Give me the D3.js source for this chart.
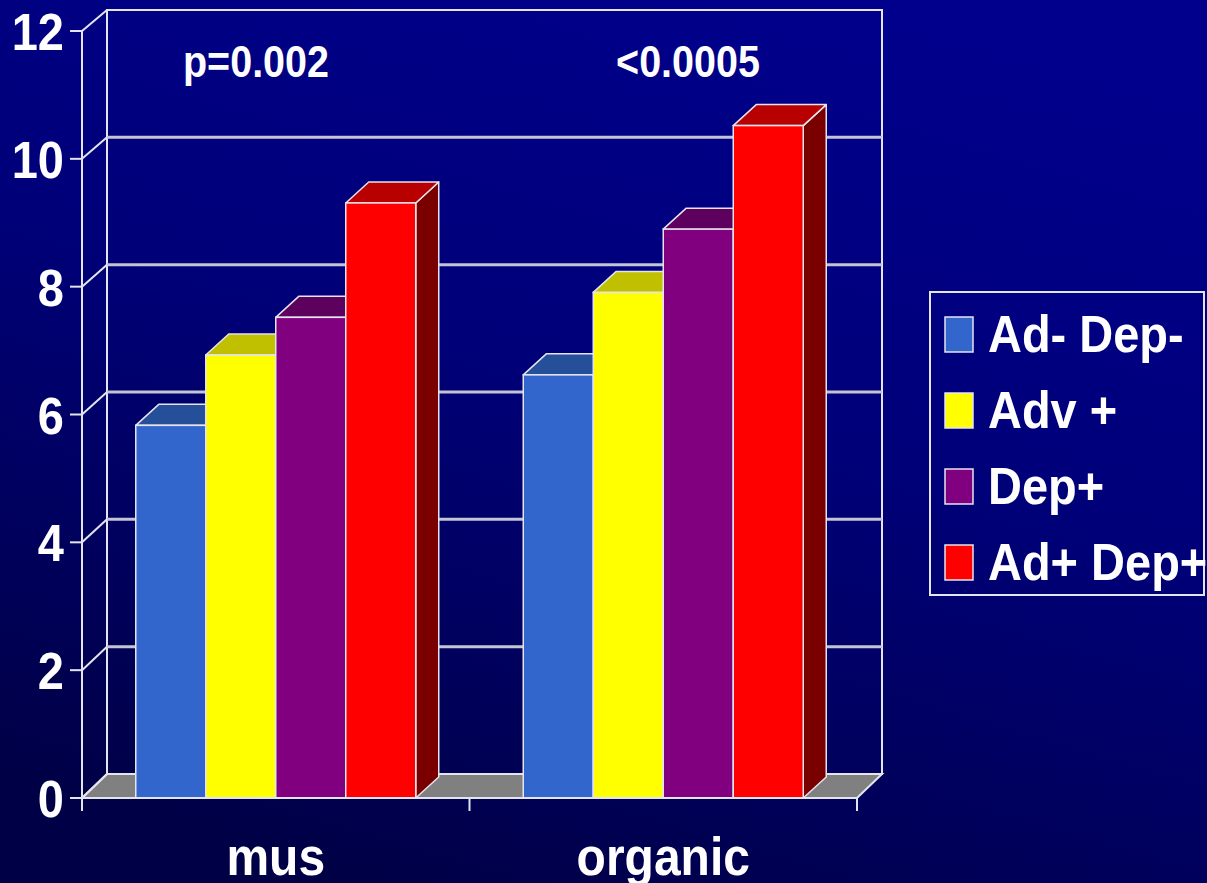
<!DOCTYPE html>
<html>
<head>
<meta charset="utf-8">
<script src="https://cdn.jsdelivr.net/npm/d3@7"></script>
<style>
  html, body { margin: 0; padding: 0; background: #000060; }
  svg { display: block; }
  text { font-family: "Liberation Sans", Arial, sans-serif; font-weight: bold; fill: #ffffff; }
</style>
</head>
<body>
<svg id="chart" width="1207" height="883"></svg>
<script>
// Data
const categories = ["mus", "organic"];
const seriesNames = ["Ad- Dep-", "Adv +", "Dep+", "Ad+ Dep+"];
const musValues = [5.83, 6.93, 7.52, 9.31];
const organicValues = [6.62, 7.91, 8.90, 10.52];
const pLabels = ["p=0.002", "<0.0005"];
const yTicks = [0, 2, 4, 6, 8, 10, 12];

const values = [musValues, organicValues];

// Colours: front, top, side
const frontColors = ["#3366cc", "#ffff00", "#800080", "#ff0000"];
const topColors = ["#264f9a", "#c0c000", "#5e005e", "#b80000"];
const sideColors = ["#1a3a80", "#808000", "#400040", "#7a0000"];

const svg = d3.select("#chart");
const W = 1207, H = 883;

// Background gradient
const defs = svg.append("defs");
const grad = defs.append("linearGradient")
  .attr("id", "bg").attr("x1", "0.7").attr("y1", "0").attr("x2", "0.3").attr("y2", "1");
grad.append("stop").attr("offset", "0").attr("stop-color", "#00008c");
grad.append("stop").attr("offset", "0.45").attr("stop-color", "#000078");
grad.append("stop").attr("offset", "1").attr("stop-color", "#000046");
svg.append("rect").attr("width", W).attr("height", H).attr("fill", "url(#bg)");

// Scales: front plane and back wall
const yFront = d3.scaleLinear().domain([0, 12]).range([798, 31]);
const yBack = d3.scaleLinear().domain([0, 12]).range([774, 10]);
const x0 = d3.scaleBand().domain(categories).range([82, 857]).padding(0);
const x1 = d3.scaleBand().domain(d3.range(seriesNames.length))
  .range([0, x0.bandwidth()]).paddingInner(0).paddingOuter(0.768);

const wallDx = 25;
const barDx = 23, barDy = 21;
const lineCol = "#e4e4ee";
const gridCol = "#c4c4d4";

// Floor
const f0 = yFront(0), b0 = yBack(0);
const xL = x0.range()[0], xR = x0.range()[1];
svg.append("path")
  .attr("d", `M${xL},${f0}L${xR},${f0}L${xR + wallDx},${b0}L${xL + wallDx},${b0}Z`)
  .attr("fill", "#808080").attr("stroke", lineCol).attr("stroke-width", 2);

// Back wall outline and gridlines
const yMax = yBack(12);
svg.append("rect")
  .attr("x", xL + wallDx).attr("y", yMax)
  .attr("width", xR - xL).attr("height", b0 - yMax)
  .attr("fill", "none").attr("stroke", lineCol).attr("stroke-width", 2);
svg.append("g").selectAll("line")
  .data(yTicks.filter(t => t > 0 && t < 12))
  .join("line")
  .attr("x1", xL + wallDx).attr("x2", xR + wallDx)
  .attr("y1", d => yBack(d)).attr("y2", d => yBack(d))
  .attr("stroke", gridCol).attr("stroke-width", 3);

// Left side wall: diagonals from front ticks to back wall
svg.append("g").selectAll("line")
  .data(yTicks)
  .join("line")
  .attr("x1", xL).attr("y1", d => yFront(d))
  .attr("x2", xL + wallDx).attr("y2", d => yBack(d))
  .attr("stroke", lineCol).attr("stroke-width", 2);

// Front value axis
svg.append("line")
  .attr("x1", xL).attr("x2", xL).attr("y1", yFront(12)).attr("y2", f0 + 13)
  .attr("stroke", lineCol).attr("stroke-width", 2);
svg.append("g").selectAll("line")
  .data(yTicks)
  .join("line")
  .attr("x1", xL - 12).attr("x2", xL)
  .attr("y1", d => yFront(d)).attr("y2", d => yFront(d))
  .attr("stroke", lineCol).attr("stroke-width", 2);

// Bars
const bars = [];
categories.forEach((c, ci) => {
  values[ci].forEach((v, si) => bars.push({ c, si, v }));
});
const barG = svg.append("g");
bars.forEach(d => {
  const x = x0(d.c) + x1(d.si);
  const w = x1.bandwidth();
  const yt = yFront(d.v);
  const g = barG.append("g");
  // side face
  g.append("path")
    .attr("d", `M${x + w},${yt}L${x + w + barDx},${yt - barDy}L${x + w + barDx},${f0 - barDy}L${x + w},${f0}Z`)
    .attr("fill", sideColors[d.si]).attr("stroke", lineCol).attr("stroke-width", 1.5)
    .attr("stroke-linejoin", "round");
  // top face
  g.append("path")
    .attr("d", `M${x},${yt}L${x + w},${yt}L${x + w + barDx},${yt - barDy}L${x + barDx},${yt - barDy}Z`)
    .attr("fill", topColors[d.si]).attr("stroke", lineCol).attr("stroke-width", 1.5)
    .attr("stroke-linejoin", "round");
  // front face
  g.append("rect")
    .attr("x", x).attr("y", yt).attr("width", w).attr("height", f0 - yt)
    .attr("fill", frontColors[d.si]).attr("stroke", lineCol).attr("stroke-width", 1.5);
});

// Category axis
svg.append("line")
  .attr("x1", xL).attr("x2", xR).attr("y1", f0).attr("y2", f0)
  .attr("stroke", lineCol).attr("stroke-width", 2);
const xTickPos = [xL, ...categories.map(c => x0(c) + x0.bandwidth())];
svg.append("g").selectAll("line")
  .data(xTickPos)
  .join("line")
  .attr("x1", d => d).attr("x2", d => d).attr("y1", f0).attr("y2", f0 + 13)
  .attr("stroke", lineCol).attr("stroke-width", 2);

// Text helper with slight vertical stretch
const SY = 1.12;
function label(txt, x, y, size, anchor) {
  return svg.append("text")
    .attr("transform", `translate(${x},${y}) scale(1,${SY})`)
    .attr("text-anchor", anchor || "start")
    .style("font-size", size + "px")
    .text(txt);
}

// Y tick labels
yTicks.forEach(t => label(String(t), 64, yFront(t) + 19, 47, "end"));

// Category labels
categories.forEach(c => label(c, x0(c) + x0.bandwidth() / 2, 875, 48, "middle"));

// Significance labels above each group
label(pLabels[0], 256, 77, 39.5, "middle");
label(pLabels[1], 688, 77, 39.5, "middle");

// Legend
const legend = svg.append("g");
legend.append("rect")
  .attr("x", 930).attr("y", 292).attr("width", 274).attr("height", 303)
  .attr("fill", "none").attr("stroke", lineCol).attr("stroke-width", 2);
seriesNames.forEach((s, i) => {
  const top = 317 + i * 76;
  legend.append("rect")
    .attr("x", 945).attr("y", top).attr("width", 28).attr("height", 35)
    .attr("fill", frontColors[i]).attr("stroke", lineCol).attr("stroke-width", 1.5);
  label(s, 988, top + 35, 47, "start");
});
</script>
</body>
</html>
